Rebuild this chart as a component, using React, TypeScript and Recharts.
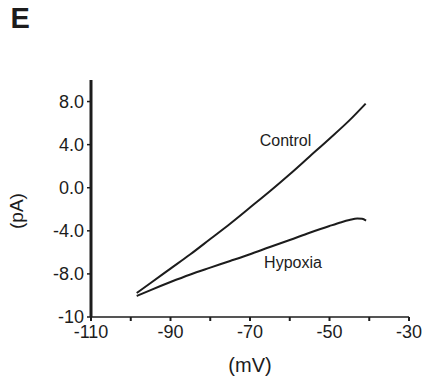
import React from "react";
import { LineChart, Line, XAxis, YAxis } from "recharts";

// Membrane voltage (mV) and current (pA) for each trace
const controlMv = [-98.5, -95, -90, -85, -80, -75, -70, -65, -60, -55, -50, -45, -40.9];
const controlPa = [-9.77, -8.84, -7.51, -6.18, -4.76, -3.34, -1.84, -0.33, 1.25, 2.9, 4.55, 6.25, 7.81];

const hypoxiaMv = [-98.5, -95, -90, -85, -80, -75, -70, -65, -60, -55, -50, -47, -45, -43, -41.8, -40.8];
const hypoxiaPa = [-10.05, -9.5, -8.75, -8.05, -7.42, -6.8, -6.17, -5.5, -4.85, -4.18, -3.55, -3.2, -3.0, -2.85, -2.88, -3.05];

// Axis ticks
const xTicks = [-110, -100, -90, -80, -70, -60, -50, -40, -30];
const xTickLabels = ["-110", "", "-90", "", "-70", "", "-50", "", "-30"];
const yTicks = [8, 4, 0, -4, -8, -12];
const yTickLabels = ["8.0", "4.0", "0.0", "-4.0", "-8.0", "-10"];

const controlData = controlMv.map((v, i) => ({ v, i: controlPa[i] }));
const hypoxiaData = hypoxiaMv.map((v, i) => ({ v, i: hypoxiaPa[i] }));

const FONT = "'Liberation Sans', Arial, Helvetica, sans-serif";
const INK = "#1c1c1c";
const W = 425;
const H = 381;

export default function App() {
  return (
    <div style={{ position: "absolute", left: 0, top: 0, width: W, height: H, background: "#fff" }}>
      <LineChart
        width={W}
        height={H}
        margin={{ top: 80, right: 16, bottom: 0, left: 0 }}
        style={{ fontFamily: FONT }}
      >
        <XAxis
          type="number"
          dataKey="v"
          domain={[-110, -30]}
          ticks={xTicks}
          tickFormatter={(t: number) => xTickLabels[xTicks.indexOf(t)] ?? ""}
          interval={0}
          height={64}
          axisLine={{ stroke: INK, strokeWidth: 1.5 }}
          tickLine={{ stroke: INK, strokeWidth: 2 }}
          tickSize={4}
          tickMargin={4}
          tick={{ fill: INK, fontSize: 18, fontFamily: FONT }}
          allowDataOverflow
          label={{ value: "(mV)", position: "insideBottom", offset: 9, fill: INK, fontSize: 20, fontFamily: FONT }}
        />
        <YAxis
          type="number"
          dataKey="i"
          domain={[-12, 10]}
          ticks={yTicks}
          tickFormatter={(t: number) => yTickLabels[yTicks.indexOf(t)] ?? ""}
          interval={0}
          width={91}
          axisLine={{ stroke: INK, strokeWidth: 3 }}
          tickLine={{ stroke: INK, strokeWidth: 1.5 }}
          tickSize={4}
          tickMargin={3}
          tick={{ fill: INK, fontSize: 18, fontFamily: FONT }}
          allowDataOverflow
        />
        <Line
          data={controlData}
          dataKey="i"
          type="monotone"
          stroke={INK}
          strokeWidth={2}
          dot={false}
          isAnimationActive={false}
        />
        <Line
          data={hypoxiaData}
          dataKey="i"
          type="monotone"
          stroke={INK}
          strokeWidth={2}
          dot={false}
          isAnimationActive={false}
        />
      </LineChart>
      <svg
        width={W}
        height={H}
        style={{ position: "absolute", left: 0, top: 0, pointerEvents: "none" }}
      >
        <text x={10.5} y={28} fontFamily={FONT} fontWeight="bold" fontSize={29} fill={INK}>
          E
        </text>
        <text
          x={16}
          y={211}
          transform="rotate(-90 16 211)"
          textAnchor="middle"
          dominantBaseline="central"
          fontFamily={FONT}
          fontSize={19}
          fill={INK}
        >
          (pA)
        </text>
        <text x={285.5} y={146} textAnchor="middle" fontFamily={FONT} fontSize={16} fill={INK}>
          Control
        </text>
        <text x={293} y={268} textAnchor="middle" fontFamily={FONT} fontSize={16} fill={INK}>
          Hypoxia
        </text>
      </svg>
    </div>
  );
}
